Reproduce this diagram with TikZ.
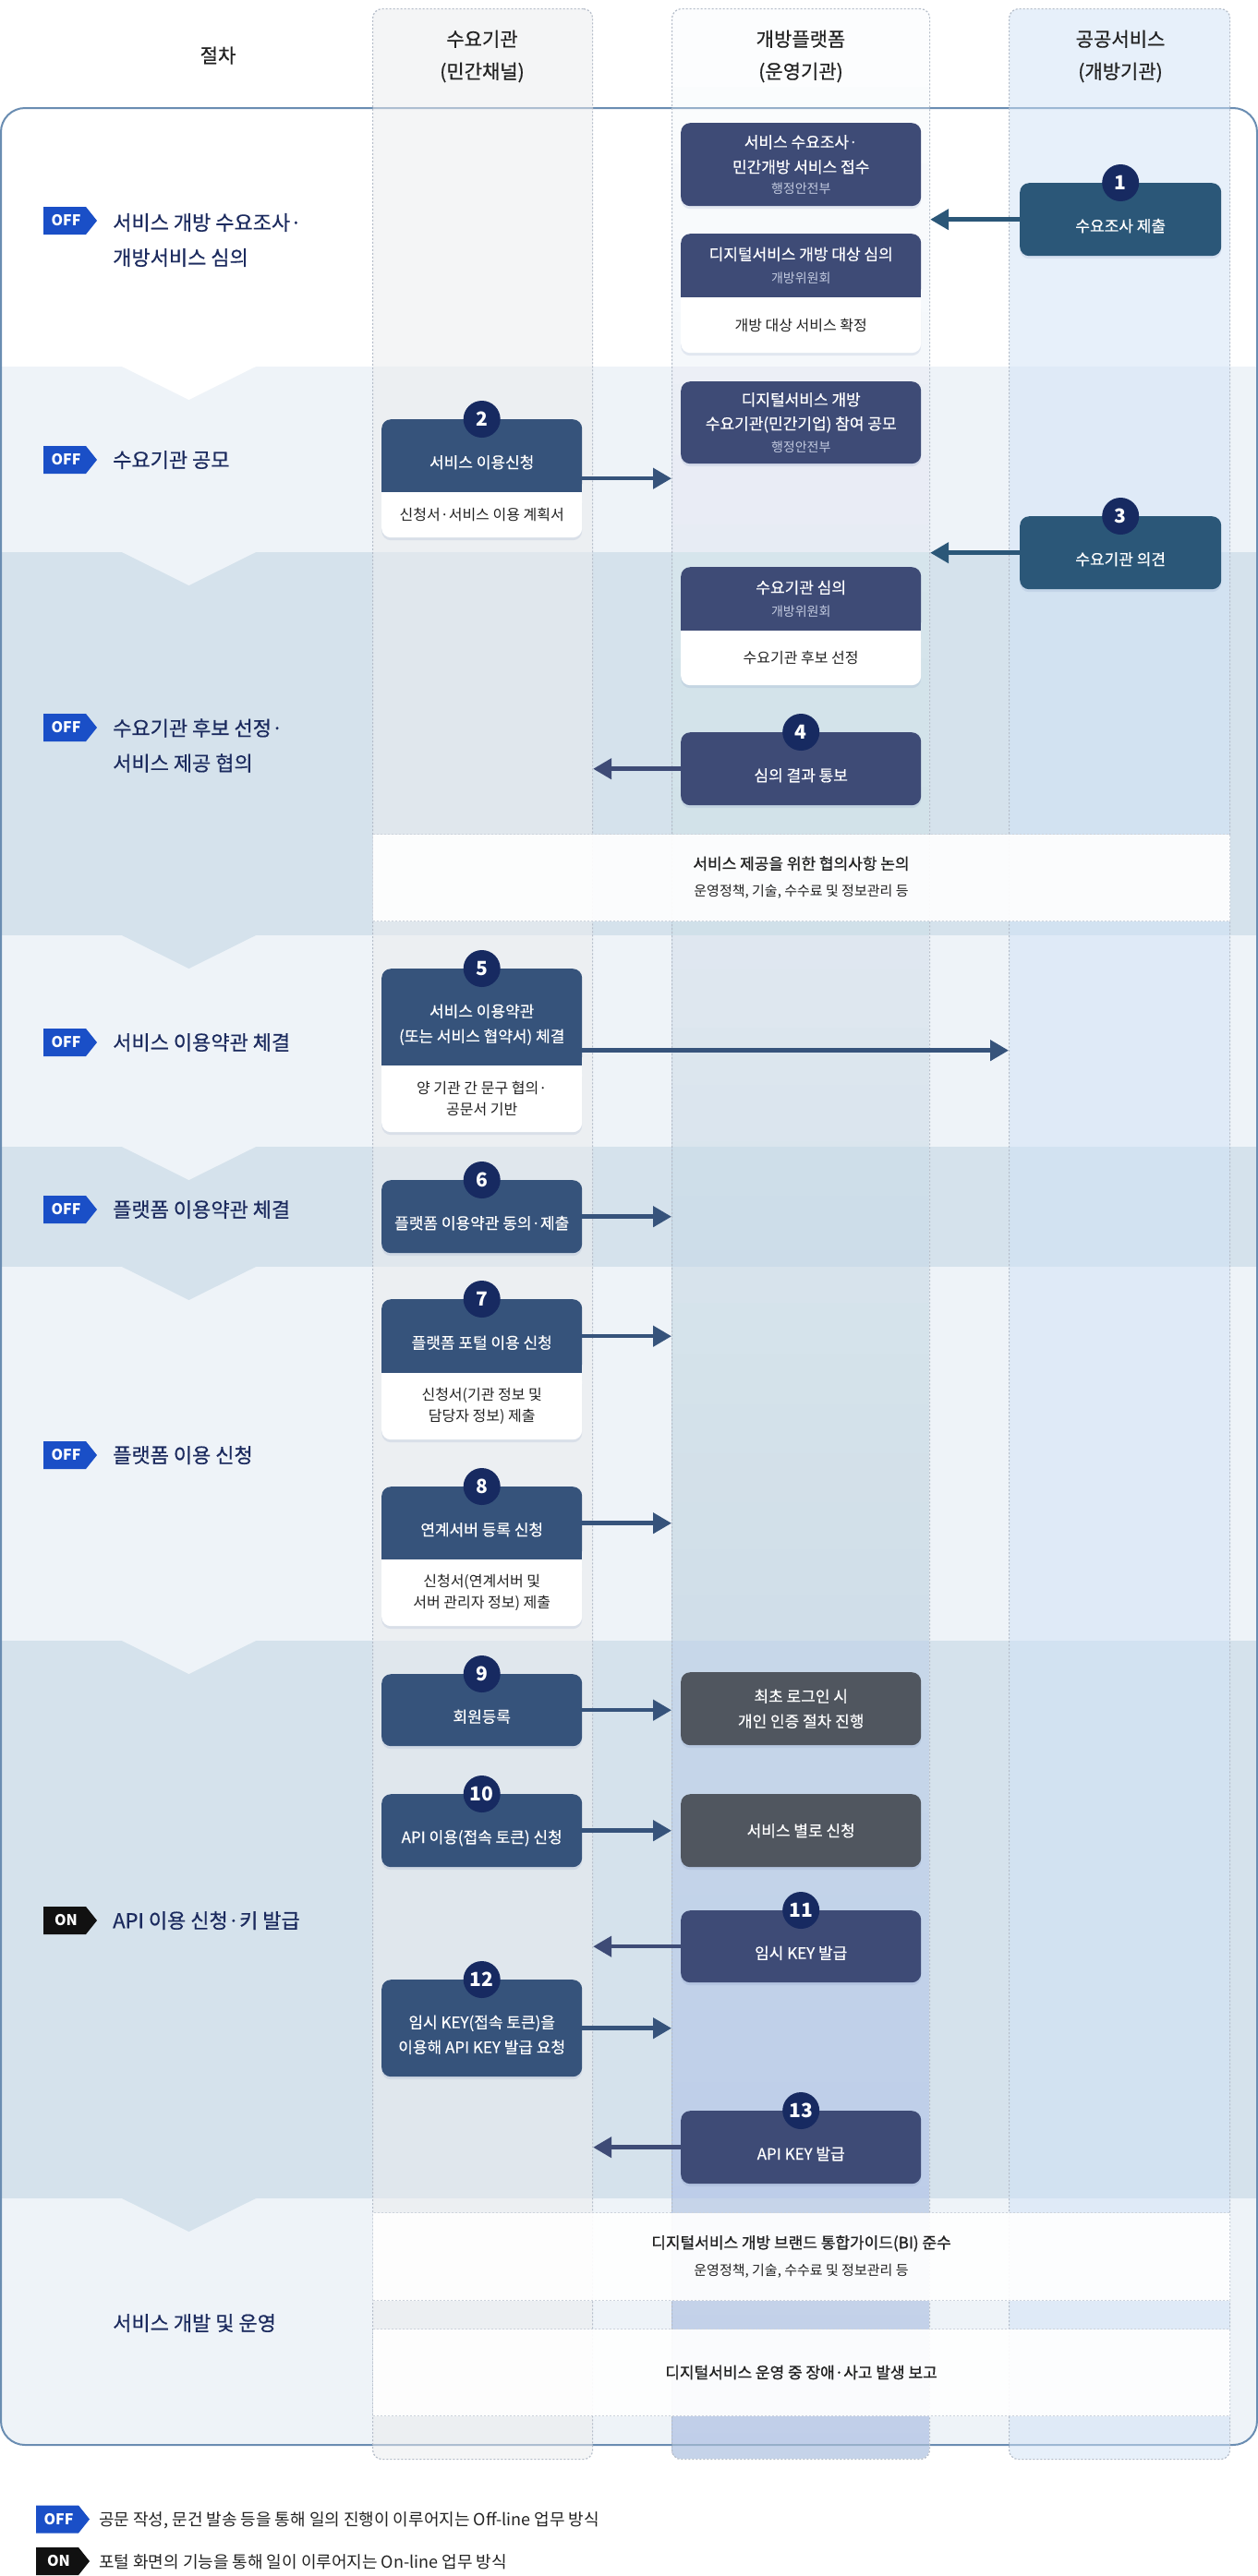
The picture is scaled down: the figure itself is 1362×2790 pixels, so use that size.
\documentclass[tikz,border=0pt]{standalone}
\usepackage{fontspec}
\setmainfont{Noto Sans CJK KR}
\newfontfamily\mdA{Noto Sans CJK KR}[FakeBold=0.45]
\newfontfamily\mdB{Noto Sans CJK KR}[FakeBold=1.0]
\usetikzlibrary{arrows.meta,calc,shadows}
\definecolor{cL}{HTML}{EEF3F8}
\definecolor{cDk}{HTML}{D5E2EC}
\definecolor{cFrame}{HTML}{6A8DB2}
\definecolor{cColB}{HTML}{B5BDC9}
\definecolor{cColD}{HTML}{EBECEE}
\definecolor{cColS}{HTML}{D1E3F7}
\definecolor{cBlue}{HTML}{8FB3E0}
\definecolor{cD}{HTML}{36537B}
\definecolor{cP}{HTML}{3E4B76}
\definecolor{cS}{HTML}{2B5778}
\definecolor{cG}{HTML}{50565F}
\definecolor{cNum}{HTML}{172A61}
\definecolor{cNavy}{HTML}{1B2A5E}
\definecolor{cOff}{HTML}{1A4FC7}
\definecolor{cOn}{HTML}{111111}
\definecolor{cHead}{HTML}{222222}
\definecolor{cTxt}{HTML}{222222}
\definecolor{cSub}{HTML}{C3CBE0}
\definecolor{cShadow}{HTML}{6F86B5}
\definecolor{cWideB}{HTML}{CDD3DC}
\newcommand\dn[1]{\raisebox{-8pt}[\height][\depth]{\begin{tabular}{@{}c@{}}#1\end{tabular}}}
\newcommand\sm[1]{{\normalfont\fontsize{14}{20}\selectfont\color{cSub}#1}}
\newcommand\tagbadge[5]{%
  \fill[#4] (#2,#3-15) -- (#2+46,#3-15) -- (#2+58,#3) -- (#2+46,#3+15) -- (#2,#3+15) -- cycle;
  \node[badgetxt] (#1) at (#2+24.5,#3) {#5};}
\begin{document}
\begin{tikzpicture}[x=1pt,y=-1pt,
 box/.style={rectangle, rounded corners=10pt, inner sep=0pt, anchor=north west, align=center,
   drop shadow={shadow xshift=0pt, shadow yshift=-3pt, fill=cShadow, opacity=0.15}},
 bD/.style={box, fill=cD, minimum width=217pt, text=white, font=\mdA\fontsize{17}{27}\selectfont},
 bS/.style={box, fill=cS, minimum width=218pt, text=white, font=\mdA\fontsize{17}{27}\selectfont},
 bP/.style={box, fill=cP, minimum width=260pt, text=white, font=\mdA\fontsize{17}{27}\selectfont},
 bG/.style={box, fill=cG, minimum width=260pt, text=white, font=\mdA\fontsize{17}{27}\selectfont},
 wD/.style={box, fill=white, minimum width=217pt, text=cTxt, font=\fontsize{16}{23}\selectfont},
 wP/.style={box, fill=white, minimum width=260pt, text=cTxt, font=\fontsize{16}{23}\selectfont},
 wide/.style={rectangle, inner sep=0pt, anchor=north west, align=center, minimum width=928pt,
   fill=white, fill opacity=0.92, text opacity=1, draw=cWideB, line width=1pt,
   dash pattern=on 2pt off 2pt, text=cTxt, font=\fontsize{17}{29}\selectfont},
 col/.style={rectangle, rounded corners=10pt, anchor=north west, inner sep=0pt,
   minimum height=2654pt, draw=cColB, line width=1.2pt, dash pattern=on 2pt off 2pt},
 num/.style={circle, fill=cNum, text=white, minimum size=40pt, inner sep=0pt,
   font=\bfseries\fontsize{21}{21}\selectfont},
 arr/.style={line width=4.5pt, -{Triangle[length=20pt,width=22pt]}},
 lbl/.style={anchor=west, align=left, text=cNavy, font=\mdA\fontsize{22}{38}\selectfont, inner sep=0pt},
 head/.style={align=center, text=cHead, font=\mdA\fontsize{21}{35}\selectfont, inner sep=0pt},
 badgetxt/.style={text=white, font=\bfseries\fontsize{16}{16}\selectfont, inner sep=0pt},
 legtxt/.style={anchor=west, text=cTxt, font=\fontsize{18}{22}\selectfont, inner sep=0pt}
]
\useasboundingbox (0,0) rectangle (1362,2790);
\fill[white] (0,0) rectangle (1362,2790);

% ---------- row bands ----------
\begin{scope}
\clip[rounded corners=26pt] (1,117) rectangle (1361,2648);
\fill[white] (0,117) rectangle (1362,397);
\fill[cL]  (0,397) rectangle (1362,598);
\fill[cDk] (0,598) rectangle (1362,1013);
\fill[cL]  (0,1013) rectangle (1362,1242);
\fill[cDk] (0,1242) rectangle (1362,1372);
\fill[cL]  (0,1372) rectangle (1362,1777);
\fill[cDk] (0,1777) rectangle (1362,2381);
\fill[cL]  (0,2381) rectangle (1362,2648);
\fill[white] (132,397) -- (277,397) -- (204.5,433) -- cycle;
\fill[cL]  (132,598) -- (277,598) -- (204.5,634) -- cycle;
\fill[cDk] (132,1013) -- (277,1013) -- (204.5,1049) -- cycle;
\fill[cL]  (132,1242) -- (277,1242) -- (204.5,1278) -- cycle;
\fill[cDk] (132,1372) -- (277,1372) -- (204.5,1408) -- cycle;
\fill[cL]  (132,1777) -- (277,1777) -- (204.5,1813) -- cycle;
\fill[cDk] (132,2381) -- (277,2381) -- (204.5,2417) -- cycle;
\end{scope}
\draw[cFrame, line width=2pt, rounded corners=26pt] (1,117) rectangle (1361,2648);

% ---------- columns ----------
\node[col, fill=cColD, fill opacity=0.52, minimum width=238pt] (colD) at (403,9) {};
\begin{scope}
\clip[rounded corners=10pt] (727,9) rectangle (1006,2663);
\foreach \k in {0,...,49} {
  \pgfmathsetmacro\yy{9+2654*(1-0.9792^\k)/0.65}
  \fill[cBlue, fill opacity=0.0208] (727,\yy) rectangle (1006,2663);
}
\end{scope}
\node[col, fill=white, fill opacity=0.3, minimum width=279pt] (colP) at (727,9) {};
\node[col, fill=cColS, fill opacity=0.5, minimum width=239pt] (colS) at (1092,9) {};

% ---------- headers ----------
\node[head] (h0) at (236,60) {절차};
\node[head] (h1) at (522,61) {수요기관\\(민간채널)};
\node[head] (h2) at (867,61) {개방플랫폼\\(운영기관)};
\node[head] (h3) at (1213,61) {공공서비스\\(개방기관)};

% ---------- row 1 ----------
\node[bP, minimum height=90pt] (p1) at (737,133) {서비스 수요조사·\\민간개방 서비스 접수\\[-5pt]\sm{행정안전부}};
\node[bP, minimum height=69pt] (p2) at (737,253) {디지털서비스 개방 대상 심의\\[-2pt]\sm{개방위원회}};
\fill[cP] ([yshift=10pt]p2.south west) rectangle (p2.south east);
\node[wP, minimum height=60pt] (p2w) at (737,322) {개방 대상 서비스 확정};
\fill[white] (p2w.north west) rectangle ([yshift=-10pt]p2w.north east);
\node[bS, minimum height=79pt] (b1) at (1104,198) {\dn{수요조사 제출}};
\node[num] (n1) at (b1.north) {1};
\draw[arr, cS] (b1.west) -- (b1.west -| colP.east);

% ---------- row 2 ----------
\node[bP, minimum height=89pt] (p3) at (737,413) {디지털서비스 개방\\[-1pt]수요기관(민간기업) 참여 공모\\[-3pt]\sm{행정안전부}};
\node[bD, minimum height=79pt] (b2) at (413,454) {\dn{서비스 이용신청}};
\fill[cD] ([yshift=10pt]b2.south west) rectangle (b2.south east);
\node[wD, minimum height=49pt] (b2w) at (413,533) {신청서·서비스 이용 계획서};
\fill[white] (b2w.north west) rectangle ([yshift=-10pt]b2w.north east);
\node[num] (n2) at (b2.north) {2};
\coordinate (a2) at ($(b2.north east)!0.5!(b2w.south east)$);
\draw[arr, cD] (a2) -- (a2 -| colP.west);
\node[bS, minimum height=79pt] (b3) at (1104,559) {\dn{수요기관 의견}};
\node[num] (n3) at (b3.north) {3};
\draw[arr, cS] (b3.west) -- (b3.west -| colP.east);

% ---------- row 3 ----------
\node[bP, minimum height=69pt] (p4) at (737,614) {수요기관 심의\\[-2pt]\sm{개방위원회}};
\fill[cP] ([yshift=10pt]p4.south west) rectangle (p4.south east);
\node[wP, minimum height=59pt] (p4w) at (737,683) {수요기관 후보 선정};
\fill[white] (p4w.north west) rectangle ([yshift=-10pt]p4w.north east);
\node[bP, minimum height=79pt] (b4) at (737,793) {\dn{심의 결과 통보}};
\node[num] (n4) at (b4.north) {4};
\draw[arr, cP] (b4.west) -- (b4.west -| colD.east);
\node[wide, minimum height=94pt] (w1) at (403,903) {{\mdB 서비스 제공을 위한 협의사항 논의}\\{\fontsize{15}{29}\selectfont 운영정책, 기술, 수수료 및 정보관리 등}};

% ---------- row 4 ----------
\node[bD, minimum height=105pt] (b5) at (413,1049) {\dn{서비스 이용약관\\(또는 서비스 협약서) 체결}};
\fill[cD] ([yshift=10pt]b5.south west) rectangle (b5.south east);
\node[wD, minimum height=72pt] (b5w) at (413,1154) {양 기관 간 문구 협의·\\공문서 기반};
\fill[white] (b5w.north west) rectangle ([yshift=-10pt]b5w.north east);
\node[num] (n5) at (b5.north) {5};
\coordinate (a5) at ($(b5.north east)!0.5!(b5w.south east)$);
\draw[arr, cD] (a5) -- (a5 -| colS.west);

% ---------- row 5 ----------
\node[bD, minimum height=79pt] (b6) at (413,1278) {\dn{플랫폼 이용약관 동의·제출}};
\node[num] (n6) at (b6.north) {6};
\draw[arr, cD] (b6.east) -- (b6.east -| colP.west);

% ---------- row 6 ----------
\node[bD, minimum height=80pt] (b7) at (413,1407) {\dn{플랫폼 포털 이용 신청}};
\fill[cD] ([yshift=10pt]b7.south west) rectangle (b7.south east);
\node[wD, minimum height=72pt] (b7w) at (413,1487) {신청서(기관 정보 및\\담당자 정보) 제출};
\fill[white] (b7w.north west) rectangle ([yshift=-10pt]b7w.north east);
\node[num] (n7) at (b7.north) {7};
\draw[arr, cD] (b7.east) -- (b7.east -| colP.west);
\node[bD, minimum height=79pt] (b8) at (413,1610) {\dn{연계서버 등록 신청}};
\fill[cD] ([yshift=10pt]b8.south west) rectangle (b8.south east);
\node[wD, minimum height=72pt] (b8w) at (413,1689) {신청서(연계서버 및\\서버 관리자 정보) 제출};
\fill[white] (b8w.north west) rectangle ([yshift=-10pt]b8w.north east);
\node[num] (n8) at (b8.north) {8};
\draw[arr, cD] (b8.east) -- (b8.east -| colP.west);

% ---------- row 7 ----------
\node[bD, minimum height=78pt] (b9) at (413,1813) {\dn{회원등록}};
\node[num] (n9) at (b9.north) {9};
\draw[arr, cD] (b9.east) -- (b9.east -| colP.west);
\node[bG, minimum height=79pt] (g1) at (737,1811) {최초 로그인 시\\개인 인증 절차 진행};
\node[bD, minimum height=79pt] (b10) at (413,1943) {\dn{API 이용(접속 토큰) 신청}};
\node[num] (n10) at (b10.north) {10};
\draw[arr, cD] (b10.east) -- (b10.east -| colP.west);
\node[bG, minimum height=79pt] (g2) at (737,1943) {서비스 별로 신청};
\node[bP, minimum height=78pt] (b11) at (737,2069) {\dn{임시 KEY 발급}};
\node[num] (n11) at (b11.north) {11};
\draw[arr, cP] (b11.west) -- (b11.west -| colD.east);
\node[bD, minimum height=105pt] (b12) at (413,2144) {\dn{임시 KEY(접속 토큰)을\\이용해 API KEY 발급 요청}};
\node[num] (n12) at (b12.north) {12};
\draw[arr, cD] (b12.east) -- (b12.east -| colP.west);
\node[bP, minimum height=79pt] (b13) at (737,2286) {\dn{API KEY 발급}};
\node[num] (n13) at (b13.north) {13};
\draw[arr, cP] (b13.west) -- (b13.west -| colD.east);

% ---------- row 8 ----------
\node[wide, minimum height=95pt] (w2) at (403,2396) {{\mdB 디지털서비스 개방 브랜드 통합가이드(BI) 준수}\\{\fontsize{15}{29}\selectfont 운영정책, 기술, 수수료 및 정보관리 등}};
\node[wide, minimum height=94pt] (w3) at (403,2522) {{\mdB 디지털서비스 운영 중 장애·사고 발생 보고}};

% ---------- row labels ----------
\tagbadge{t1}{47}{239}{cOff}{OFF}
\node[lbl] (r1) at (122,260) {서비스 개방 수요조사·\\개방서비스 심의};
\tagbadge{t2}{47}{498}{cOff}{OFF}
\node[lbl] (r2) at (122,498) {수요기관 공모};
\tagbadge{t3}{47}{788}{cOff}{OFF}
\node[lbl] (r3) at (122,807.5) {수요기관 후보 선정·\\서비스 제공 협의};
\tagbadge{t4}{47}{1129}{cOff}{OFF}
\node[lbl] (r4) at (122,1129) {서비스 이용약관 체결};
\tagbadge{t5}{47}{1310}{cOff}{OFF}
\node[lbl] (r5) at (122,1310) {플랫폼 이용약관 체결};
\tagbadge{t6}{47}{1576}{cOff}{OFF}
\node[lbl] (r6) at (122,1576) {플랫폼 이용 신청};
\tagbadge{t7}{47}{2080}{cOn}{ON}
\node[lbl] (r7) at (122,2080) {API 이용 신청·키 발급};
\node[lbl] (r8) at (122,2516) {서비스 개발 및 운영};

% ---------- legend ----------
\tagbadge{lgOff}{39}{2728.5}{cOff}{OFF}
\node[legtxt] (lg1) at (107,2730) {공문 작성, 문건 발송 등을 통해 일의 진행이 이루어지는 Off-line 업무 방식};
\tagbadge{lgOn}{39}{2774}{cOn}{ON}
\node[legtxt] (lg2) at (107,2775) {포털 화면의 기능을 통해 일이 이루어지는 On-line 업무 방식};
\end{tikzpicture}
\end{document}
